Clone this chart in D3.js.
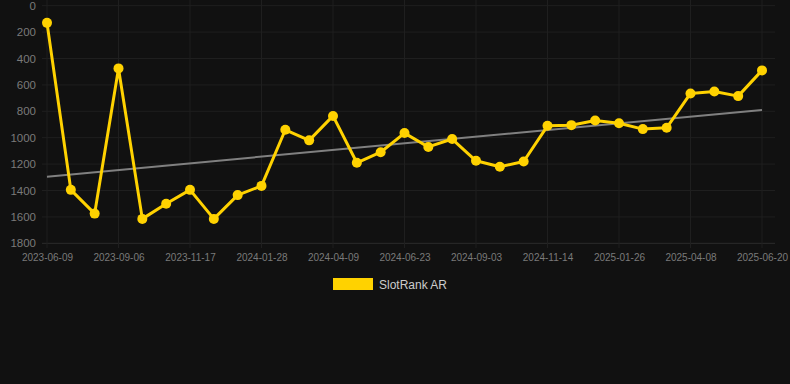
<!DOCTYPE html>
<html>
<head>
<meta charset="utf-8">
<script src="https://cdn.jsdelivr.net/npm/d3@7"></script>
<style>
  html, body { margin: 0; padding: 0; background: #111111; }
  svg { display: block; }
</style>
</head>
<body>
<svg id="chart" width="790" height="384"></svg>
<script>
/* ── DATA ─────────────────────────────────────── */
// every 3rd date is a visible tick label; the others are estimated
const dates = [
  '2023-06-09', '2023-07-08', '2023-08-07',
  '2023-09-06', '2023-09-30', '2023-10-24',
  '2023-11-17', '2023-12-11', '2024-01-04',
  '2024-01-28', '2024-02-21', '2024-03-16',
  '2024-04-09', '2024-05-04', '2024-05-29',
  '2024-06-23', '2024-07-17', '2024-08-10',
  '2024-09-03', '2024-09-27', '2024-10-21',
  '2024-11-14', '2024-12-08', '2025-01-01',
  '2025-01-26', '2025-02-19', '2025-03-15',
  '2025-04-08', '2025-05-02', '2025-05-26',
  '2025-06-20'
];
const rankValues = [
  130, 1395, 1575, 475, 1615, 1500, 1395, 1615, 1435, 1365,
  940, 1020, 835, 1190, 1110, 965, 1070, 1010, 1175, 1220,
  1180, 910, 905, 870, 890, 935, 925, 665, 650, 685, 490
];
const trendValues = [1295, 790];   // trend line, first and last date
const yTicks = [0, 200, 400, 600, 800, 1000, 1200, 1400, 1600, 1800];
const tickLabels = dates.filter((d, i) => i % 3 === 0);
const seriesName = 'SlotRank AR';

/* ── SETUP ────────────────────────────────────── */
const YELLOW = '#ffd200';
const FONT = 'Arial, "Liberation Sans", sans-serif';
const svg = d3.select('#chart');
const x = d3.scalePoint().domain(dates).range([47, 762]);
const y = d3.scaleLinear().domain([0, 1800]).range([5.7, 243.3]);

/* ── GRID ─────────────────────────────────────── */
svg.append('g').selectAll('line').data(yTicks).enter().append('line')
  .attr('x1', 42).attr('x2', 775)
  .attr('y1', d => y(d)).attr('y2', d => y(d))
  .attr('stroke', d => d === 1800 ? '#2c2c2c' : '#1f1f1f').attr('stroke-width', 1);

svg.append('g').selectAll('line').data(tickLabels).enter().append('line')
  .attr('x1', d => x(d)).attr('x2', d => x(d))
  .attr('y1', 0).attr('y2', 248)
  .attr('stroke', '#1f1f1f').attr('stroke-width', 1);

/* ── AXES ─────────────────────────────────────── */
const yAxis = svg.append('g').attr('transform', 'translate(42,0)')
  .call(d3.axisLeft(y).tickValues(yTicks).tickFormat(d3.format('d'))
    .tickSize(0).tickPadding(6));
yAxis.select('.domain').remove();
yAxis.selectAll('text')
  .attr('fill', '#7a7a7a').attr('font-size', '11.5px').attr('font-family', FONT);

const xAxis = svg.append('g').attr('transform', 'translate(0,243)')
  .call(d3.axisBottom(x).tickValues(tickLabels).tickSize(0).tickPadding(11));
xAxis.select('.domain').remove();
xAxis.selectAll('text')
  .attr('fill', '#7a7a7a').attr('font-size', '10px').attr('font-family', FONT);

/* ── TREND ────────────────────────────────────── */
svg.append('line')
  .attr('x1', x(dates[0])).attr('y1', y(trendValues[0]))
  .attr('x2', x(dates[dates.length - 1])).attr('y2', y(trendValues[1]))
  .attr('stroke', '#808080').attr('stroke-width', 2);

/* ── SERIES ───────────────────────────────────── */
const line = d3.line().x((d, i) => x(dates[i])).y(d => y(d));
svg.append('path').datum(rankValues)
  .attr('d', line).attr('fill', 'none')
  .attr('stroke', YELLOW).attr('stroke-width', 3)
  .attr('stroke-linejoin', 'round');

svg.append('g').selectAll('circle').data(rankValues).enter().append('circle')
  .attr('cx', (d, i) => x(dates[i])).attr('cy', d => y(d))
  .attr('r', 5).attr('fill', YELLOW);

/* ── LEGEND ───────────────────────────────────── */
const legend = svg.append('g');
legend.append('rect').attr('x', 333).attr('y', 278)
  .attr('width', 40).attr('height', 12).attr('fill', YELLOW);
legend.append('text').attr('x', 379).attr('y', 288.5)
  .attr('fill', '#cccccc').attr('font-size', '12px').attr('font-family', FONT)
  .text(seriesName);
</script>
</body>
</html>
